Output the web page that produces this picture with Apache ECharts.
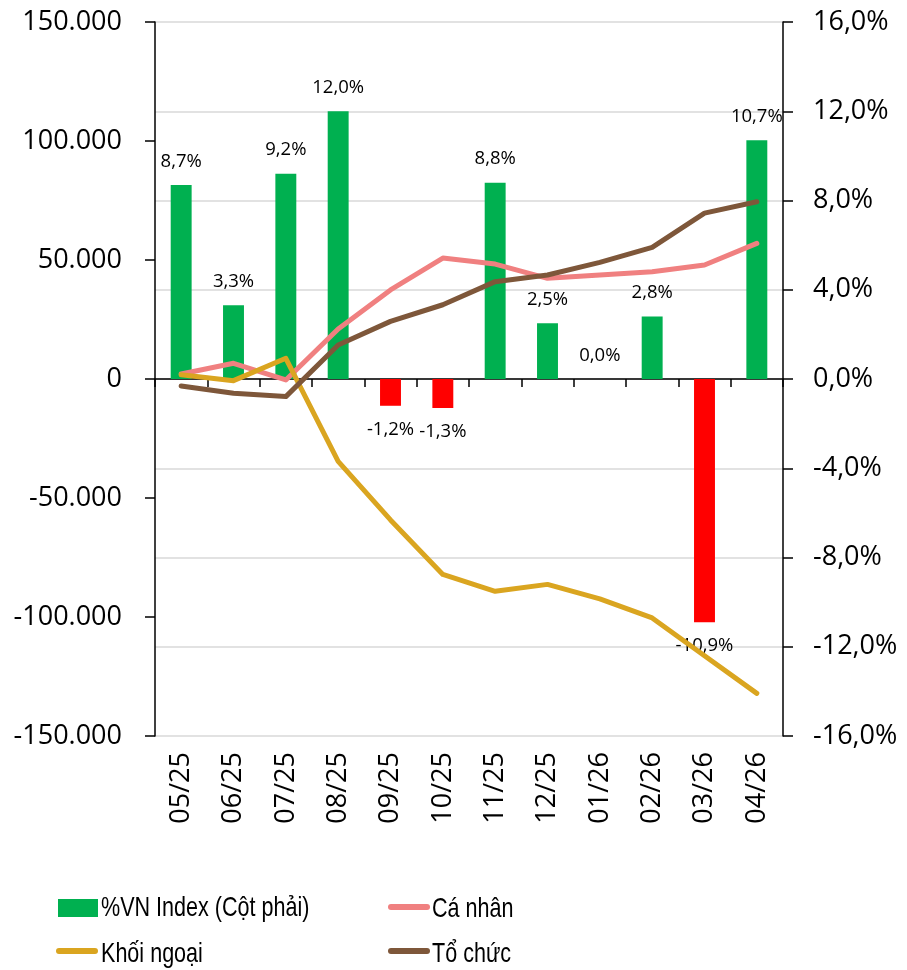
<!DOCTYPE html>
<html>
<head>
<meta charset="utf-8">
<script src="https://cdn.jsdelivr.net/npm/echarts@6/dist/echarts.min.js"></script>
<style>
  html, body { margin: 0; padding: 0; background: #fff; }
  #chart { width: 907px; height: 970px; }
</style>
</head>
<body>
<div id="chart"></div>
<script>
// Months on the category axis
const months = ['05/25', '06/25', '07/25', '08/25', '09/25', '10/25',
                '11/25', '12/25', '01/26', '02/26', '03/26', '04/26'];

// Monthly % change of VN-Index (right axis, columns)
const vnIndexPct = [8.7, 3.3, 9.2, 12.0, -1.2, -1.3, 8.8, 2.5, 0.0, 2.8, -10.9, 10.7];

// Cumulative net buying by investor group (left axis, lines)
const caNhan    = [2100, 6600, -400, 21000, 37400, 50800, 48300, 42300, 43700, 45100, 47900, 57000];
const khoiNgoai = [1800, -700, 8700, -34600, -59200, -82100, -89200, -86300, -92400, -100400, -116300, -132100];
const toChuc    = [-2900, -6000, -7400, 14300, 24200, 31200, 40900, 43700, 49000, 55300, 69700, 74500];

// Axis ranges: [min, max, step]
const leftRange  = [-150000, 150000, 50000];
const rightRange = [-16, 16, 4];

const seriesNames = ['%VN Index (Cột phải)', 'Cá nhân', 'Khối ngoại', 'Tổ chức'];
const seriesColors = ['#00B050', '#F08080', '#DAA520', '#7E573A'];
const NEG_COLOR = '#FF0000';

const AXIS_FONT = "'Open Sans', 'Liberation Sans', sans-serif";
const LEGEND_FONT = "'Liberation Sans', Arial, sans-serif";

const fmtThousands = v => {
  const s = Math.abs(v).toString().replace(/\B(?=(\d{3})+(?!\d))/g, '.');
  return (v < 0 ? '-' : '') + s;
};
const fmtPct = v => v.toFixed(1).replace('.', ',') + '%';

const lineIcon = 'path://M3,0 H39 A3,3 0 0 1 39,6 H3 A3,3 0 0 1 3,0 Z';

// Legend swatches (names are written separately in a condensed face)
function legendAt(name, left, top, icon, w, h) {
  return {
    data: [name], left: left, top: top, icon: icon,
    itemWidth: w, itemHeight: h, padding: 0,
    formatter: () => '',
    textStyle: { fontSize: 6 },
    selectedMode: false
  };
}

// Condensed legend caption
function caption(text, x, y) {
  return {
    type: 'text', x: x, y: y, scaleX: 0.77, scaleY: 1, silent: true,
    style: {
      text: text, fill: '#000', fontFamily: LEGEND_FONT, fontSize: 28,
      textAlign: 'left', textVerticalAlign: 'middle', verticalAlign: 'middle'
    }
  };
}

const chart = echarts.init(document.getElementById('chart'), null, { renderer: 'canvas' });

chart.setOption({
  animation: false,
  backgroundColor: '#fff',
  grid: { left: 155, right: 124, top: 22, bottom: 234, containLabel: false },
  legend: [
    legendAt(seriesNames[0], 58, 899, 'rect', 40, 18),
    legendAt(seriesNames[1], 388, 904, lineIcon, 42, 6),
    legendAt(seriesNames[2], 56, 948, lineIcon, 42, 6),
    legendAt(seriesNames[3], 388, 948, lineIcon, 42, 6)
  ],
  graphic: [
    caption(seriesNames[0], 101, 908),
    caption(seriesNames[1], 432, 909),
    caption(seriesNames[2], 101, 954),
    caption(seriesNames[3], 432, 954)
  ],
  xAxis: [
    {
      type: 'category', data: months, position: 'bottom',
      axisLine: { show: true, onZero: true, lineStyle: { color: '#000', width: 1.5 } },
      axisTick: { show: true, length: 8, lineStyle: { color: '#000', width: 1.5 } },
      axisLabel: { show: false },
      splitLine: { show: false }
    },
    {
      type: 'category', data: months, position: 'bottom',
      axisLine: { show: false, onZero: false },
      axisTick: { show: false },
      axisLabel: { show: true, rotate: 90, margin: 16, fontFamily: AXIS_FONT, fontSize: 27, color: '#000' },
      splitLine: { show: false }
    }
  ],
  yAxis: [
    {
      type: 'value', position: 'left',
      min: leftRange[0], max: leftRange[1], interval: leftRange[2],
      axisLine: { show: true, onZero: false, lineStyle: { color: '#000', width: 1.5 } },
      axisTick: { show: true, length: 10, lineStyle: { color: '#000', width: 1.5 } },
      axisLabel: { margin: 33, fontFamily: AXIS_FONT, fontSize: 27, color: '#000', formatter: fmtThousands },
      splitLine: { show: false }
    },
    {
      type: 'value', position: 'right',
      min: rightRange[0], max: rightRange[1], interval: rightRange[2],
      axisLine: { show: true, onZero: false, lineStyle: { color: '#000', width: 1.5 } },
      axisTick: { show: true, length: 10, lineStyle: { color: '#000', width: 1.5 } },
      axisLabel: { margin: 30, fontFamily: AXIS_FONT, fontSize: 27, color: '#000', formatter: v => fmtPct(v) },
      splitLine: { show: true, lineStyle: { color: '#D9D9D9', width: 1.5 } }
    }
  ],
  series: [
    {
      name: seriesNames[0], type: 'bar', xAxisIndex: 0, yAxisIndex: 1,
      barWidth: '40%',
      itemStyle: { color: seriesColors[0] },
      data: vnIndexPct.map(v => ({
        value: v,
        itemStyle: { color: v < 0 ? NEG_COLOR : seriesColors[0] },
        label: { position: v < 0 ? 'bottom' : 'top' }
      })),
      label: {
        show: true, distance: 14,
        fontFamily: AXIS_FONT, fontSize: 18.5, color: '#000',
        formatter: p => fmtPct(p.value)
      },
      z: 2
    },
    {
      name: seriesNames[1], type: 'line', xAxisIndex: 0, yAxisIndex: 0,
      data: caNhan, symbol: 'none', color: seriesColors[1],
      lineStyle: { width: 5, color: seriesColors[1], cap: 'round', join: 'round' }, z: 3
    },
    {
      name: seriesNames[2], type: 'line', xAxisIndex: 0, yAxisIndex: 0,
      data: khoiNgoai, symbol: 'none', color: seriesColors[2],
      lineStyle: { width: 5, color: seriesColors[2], cap: 'round', join: 'round' }, z: 4
    },
    {
      name: seriesNames[3], type: 'line', xAxisIndex: 0, yAxisIndex: 0,
      data: toChuc, symbol: 'none', color: seriesColors[3],
      lineStyle: { width: 5, color: seriesColors[3], cap: 'round', join: 'round' }, z: 5
    }
  ]
});
</script>
</body>
</html>
